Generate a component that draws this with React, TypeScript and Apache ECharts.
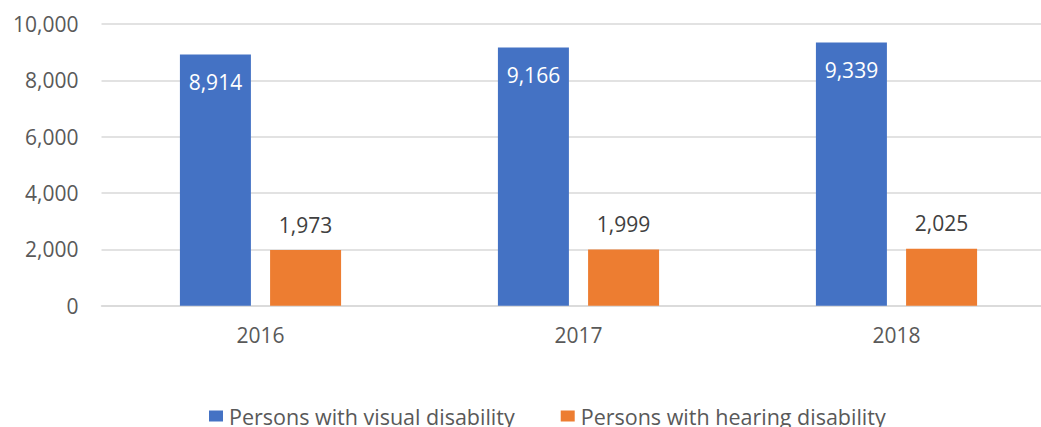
import React, { useEffect, useRef } from "react";
import * as echarts from "echarts";

const categories = ["2016", "2017", "2018"];
const visualValues = [8914, 9166, 9339];
const hearingValues = [1973, 1999, 2025];
const seriesNames = ["Persons with visual disability", "Persons with hearing disability"];

const FONT = "'Open Sans', sans-serif";

export default function App() {
  const ref = useRef<HTMLDivElement>(null);
  useEffect(() => {
    if (!ref.current) return;
    const chart = echarts.init(ref.current, undefined, { renderer: "svg" });
    const fmt = (v: number) => v.toLocaleString("en-US");
    chart.setOption({
      animation: false,
      textStyle: { fontFamily: FONT },
      grid: {
        left: 101.5,
        right: -14.5,
        top: 24,
        bottom: 121.3,
        containLabel: false,
        outerBoundsMode: "none",
      },
      legend: {
        left: 209,
        top: 405,
        padding: 0,
        itemWidth: 14,
        itemHeight: 11,
        itemGap: 46,
        icon: "rect",
        textStyle: { fontFamily: FONT, fontSize: 21.5, color: "#595959", padding: [0, 0, 0, 1] },
        data: seriesNames,
      },
      xAxis: {
        type: "category",
        data: categories,
        axisLine: { show: true, lineStyle: { color: "#D9D9D9", width: 1.5 } },
        axisTick: { show: false },
        axisLabel: { fontFamily: FONT, fontSize: 21, color: "#595959", margin: 19 },
      },
      yAxis: {
        type: "value",
        min: 0,
        max: 10000,
        interval: 2000,
        axisLine: { show: false },
        axisTick: { show: false },
        splitLine: { lineStyle: { color: "#D9D9D9", width: 1.5 } },
        axisLabel: {
          fontFamily: FONT,
          fontSize: 21,
          color: "#595959",
          margin: 23,
          formatter: (v: number) => fmt(v),
        },
      },
      series: [
        {
          name: seriesNames[0],
          type: "bar",
          data: visualValues,
          barWidth: 71,
          barGap: "27%",
          itemStyle: { color: "#4472C4" },
          label: {
            show: true,
            position: "insideTop",
            distance: 17,
            color: "#FFFFFF",
            fontFamily: FONT,
            fontSize: 21,
            formatter: (p: any) => fmt(p.value),
          },
        },
        {
          name: seriesNames[1],
          type: "bar",
          data: hearingValues,
          barWidth: 71,
          barGap: "27%",
          itemStyle: { color: "#ED7D31" },
          label: {
            show: true,
            position: "top",
            distance: 15,
            color: "#404040",
            fontFamily: FONT,
            fontSize: 21,
            formatter: (p: any) => fmt(p.value),
          },
        },
      ],
    });
    return () => chart.dispose();
  }, []);
  return (
    <div
      ref={ref}
      style={{ position: "absolute", left: 0, top: 0, width: 1041, height: 427 }}
    />
  );
}
